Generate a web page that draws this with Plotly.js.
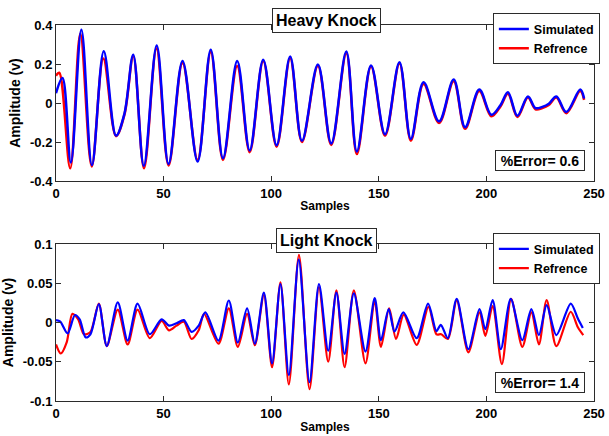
<!DOCTYPE html>
<html>
<head>
<meta charset="utf-8">
<script src="https://cdn.plot.ly/plotly-3.0.1.min.js"></script>
<style>html,body{margin:0;padding:0;background:#fff;}#chart{width:609px;height:436px;}</style>
</head>
<body>
<div id="chart"></div>
<script>
// ---- Heavy Knock (top) ----
const heavySimX = [0,3.0,6.9,11.8,16.7,22.2,27.9,31.8,35.9,40.8,46.8,52.3,58.8,65.8,71.9,77.6,84.2,90.0,96.3,102.5,108.8,114.3,121.7,127.9,134.9,139.8,146.4,152.9,159.6,164.9,170.8,178.0,184.8,190.1,196.7,202.3,206.6,210.0,214.4,219.3,222.8,226.0,229.0,232.5,237.1,243.6,245.4];
const heavySimY = [0.05,0.128,-0.305,0.376,-0.318,0.266,-0.167,-0.055,0.248,-0.322,0.295,-0.312,0.216,-0.300,0.273,-0.283,0.216,-0.243,0.222,-0.216,0.238,-0.194,0.197,-0.207,0.264,-0.248,0.193,-0.160,0.209,-0.184,0.106,-0.094,0.120,-0.124,0.069,-0.060,-0.010,0.055,-0.065,0.034,-0.026,-0.020,-0.004,0.034,-0.046,0.069,0.023];
const heavyRefX = [0,1.5,6.6,11.3,16.6,22.0,27.9,31.8,35.9,40.9,46.7,52.3,58.8,65.8,71.9,77.6,84.2,90.0,96.3,102.5,108.8,114.3,121.7,127.9,134.9,139.8,146.4,152.9,159.6,164.9,170.8,178.0,184.8,190.1,196.7,202.3,206.6,210.0,214.4,219.3,222.8,226.0,229.0,232.5,237.1,243.6,245.4];
const heavyRefY = [0.140,0.155,-0.335,0.355,-0.325,0.228,-0.170,-0.060,0.240,-0.335,0.280,-0.320,0.205,-0.292,0.262,-0.292,0.190,-0.252,0.215,-0.224,0.230,-0.200,0.190,-0.215,0.255,-0.262,0.187,-0.168,0.203,-0.193,0.098,-0.102,0.112,-0.132,0.062,-0.068,-0.016,0.048,-0.072,0.028,-0.032,-0.026,-0.010,0.028,-0.052,0.062,0.016];

// ---- Light Knock (bottom) ----
const lightSimX = [0,2,5.4,8.8,11,13.8,16,19.9,23.6,28.7,33.3,37.9,43.6,49.1,52.5,56,59.4,63.0,66.3,69.4,75.5,80.3,84.5,88.8,92.4,96.6,100.4,104.3,108.2,112.8,117.8,122.2,126.5,130.3,134.1,138.4,143.8,148.1,151.0,154.6,157.3,161.4,167.6,172.9,176.8,178.8,182.1,186.2,191.6,196.8,199.5,202.9,206.7,211.3,216.7,220.9,224.4,228.0,232.5,239.2,242.5,244.8];
const lightSimY = [0.003,0.001,-0.014,0.0095,0.004,-0.019,-0.015,0.0235,-0.030,0.0255,-0.023,0.024,-0.015,0.004,-0.004,-0.001,0.003,-0.012,-0.004,0.013,-0.023,0.028,-0.0255,0.018,-0.027,0.038,-0.052,0.049,-0.067,0.080,-0.076,0.049,-0.036,0.038,-0.040,0.037,-0.037,0.031,-0.0225,0.017,-0.0115,0.0128,-0.020,0.024,-0.011,-0.003,-0.020,0.030,-0.034,0.017,-0.0085,0.0286,-0.034,0.030,-0.0225,0.017,-0.016,0.022,-0.016,0.024,0.005,-0.007];
const lightRefX = [0,2.2,5,7.6,10.3,13.0,16,19.9,23.6,28.7,33.3,37.9,43.6,49.1,52.5,56,59.4,63.0,66.3,68.8,75.5,80.3,84.5,88.8,92.4,96.6,100.4,104.3,108.2,112.9,117.8,122.2,126.5,130.3,134.1,138.4,143.8,148.1,151.0,154.8,158.0,161.6,167.6,173.1,176.8,179.0,182.1,186.2,191.6,196.8,199.5,202.9,207.2,211.5,216.7,220.9,224.4,228.0,232.5,239.2,242.5,245.0];
const lightRefY = [-0.028,-0.0395,-0.025,0.011,0.004,-0.015,-0.012,0.024,-0.030,0.0165,-0.028,0.0165,-0.020,0.002,-0.010,-0.004,0.001,-0.021,-0.010,0.011,-0.027,0.018,-0.031,0.011,-0.029,0.035,-0.057,0.051,-0.079,0.086,-0.085,0.045,-0.050,0.041,-0.057,0.041,-0.052,0.027,-0.031,0.018,-0.021,0.010,-0.0285,0.020,-0.015,-0.015,-0.021,0.028,-0.038,0.013,-0.017,0.021,-0.053,0.030,-0.031,0.013,-0.028,0.0286,-0.030,0.0137,-0.006,-0.016];

// ---- ticks / labels ----
const xTickVals = [0,50,100,150,200,250];
const xTickText = ['0','50','100','150','200','250'];
const heavyTickVals = [0.4,0.2,0,-0.2,-0.4];
const heavyTickText = ['0.4','0.2','0','-0.2','-0.4'];
const lightTickVals = [0.1,0.05,0,-0.05,-0.1];
const lightTickText = ['0.1','0.05','0','-0.05','-0.1'];
const seriesNames = ['Simulated','Refrence'];
const plotTitles = ['Heavy Knock','Light Knock'];
const errorTexts = ['%Error= 0.6','%Error= 1.4'];

const BLUE = '#0000FF', RED = '#FF0000', AX = '#2b2b2b';
const bold = (s,c) => ({family:'Arial, Liberation Sans, sans-serif', size:s, color:c||'#000', weight:'bold'});

const traces = [
  {x:heavyRefX, y:heavyRefY, name:seriesNames[1], type:'scatter', mode:'lines', line:{color:RED,width:2.5,shape:'spline',smoothing:1}, xaxis:'x', yaxis:'y', legend:'legend', legendrank:2},
  {x:heavySimX, y:heavySimY, name:seriesNames[0], type:'scatter', mode:'lines', line:{color:BLUE,width:2.5,shape:'spline',smoothing:1}, xaxis:'x', yaxis:'y', legend:'legend', legendrank:1},
  {x:lightRefX, y:lightRefY, name:seriesNames[1], type:'scatter', mode:'lines', line:{color:RED,width:2.2,shape:'spline',smoothing:0.8}, xaxis:'x2', yaxis:'y2', legend:'legend2', legendrank:2},
  {x:lightSimX, y:lightSimY, name:seriesNames[0], type:'scatter', mode:'lines', line:{color:BLUE,width:2.2,shape:'spline',smoothing:0.8}, xaxis:'x2', yaxis:'y2', legend:'legend2', legendrank:1}
];

const axBase = {showline:true, linecolor:AX, linewidth:1, mirror:'allticks', ticks:'inside', ticklen:5, tickcolor:AX, tickwidth:1, showgrid:false, zeroline:false, tickfont:bold(13), tickmode:'array'};

const legBase = {bgcolor:'#fff', bordercolor:AX, borderwidth:1, font:bold(12.5), xanchor:'left', yanchor:'top', tracegroupgap:0, traceorder:'normal'};

const layout = {
  width:609, height:436,
  margin:{l:56, r:9, t:25, b:35},
  paper_bgcolor:'#fff', plot_bgcolor:'#fff',
  showlegend:true,
  xaxis: Object.assign({}, axBase, {domain:[0,1], anchor:'y', range:[0,250], tickvals:xTickVals, ticktext:xTickText, title:{text:'Samples', font:bold(12), standoff:1}}),
  yaxis: Object.assign({}, axBase, {domain:[0.585,1], anchor:'x', range:[-0.4,0.4], tickvals:heavyTickVals, ticktext:heavyTickText, title:{text:'Amplitude (v)', font:bold(14), standoff:6}}),
  xaxis2: Object.assign({}, axBase, {domain:[0,1], anchor:'y2', range:[0,250], tickvals:xTickVals, ticktext:xTickText, title:{text:'Samples', font:bold(12), standoff:3}}),
  yaxis2: Object.assign({}, axBase, {domain:[0,0.4176], anchor:'x2', range:[-0.1,0.1], tickvals:lightTickVals, ticktext:lightTickText, title:{text:'Amplitude (v)', font:bold(14), standoff:6}}),
  legend: Object.assign({}, legBase, {x:0.812, y:1.031}),
  legend2: Object.assign({}, legBase, {x:0.812, y:0.446}),
  annotations:[
    {text:plotTitles[0], xref:'paper', yref:'paper', x:0.502, y:1.013, xanchor:'center', yanchor:'middle', showarrow:false, font:bold(16), bgcolor:'#fff', bordercolor:AX, borderwidth:1, borderpad:3},
    {text:plotTitles[1], xref:'paper', yref:'paper', x:0.502, y:0.428, xanchor:'center', yanchor:'middle', showarrow:false, font:bold(16), bgcolor:'#fff', bordercolor:AX, borderwidth:1, borderpad:3},
    {text:errorTexts[0], xref:'paper', yref:'paper', x:0.899, y:0.6396, xanchor:'center', yanchor:'middle', showarrow:false, font:bold(14), bgcolor:'#fff', bordercolor:AX, borderwidth:1, borderpad:1, width:86, height:17},
    {text:errorTexts[1], xref:'paper', yref:'paper', x:0.899, y:0.0492, xanchor:'center', yanchor:'middle', showarrow:false, font:bold(14), bgcolor:'#fff', bordercolor:AX, borderwidth:1, borderpad:1, width:86, height:17}
  ]
};

Plotly.newPlot('chart', traces, layout, {displayModeBar:false, staticPlot:true});
</script>
</body>
</html>
